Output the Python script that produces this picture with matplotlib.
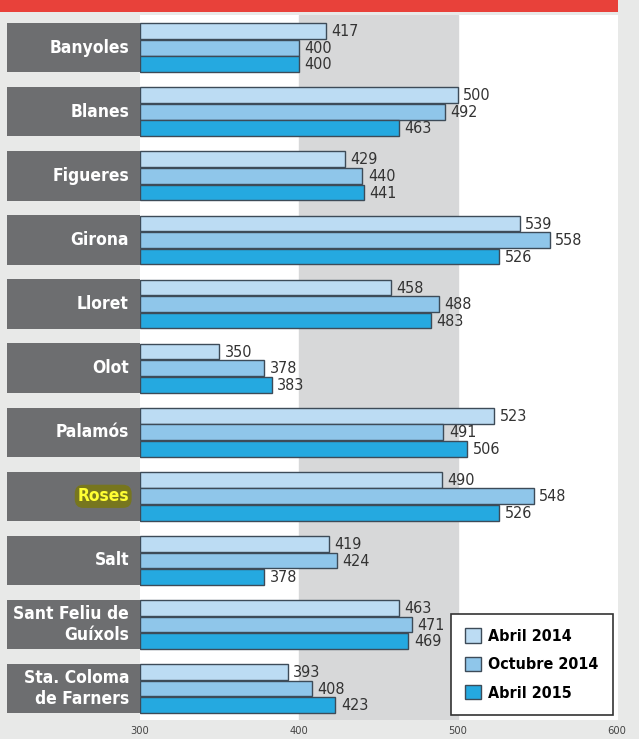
import numpy as np
import matplotlib.pyplot as plt
from matplotlib.patches import Rectangle
from matplotlib.transforms import blended_transform_factory

towns = ['Banyoles', 'Blanes', 'Figueres', 'Girona', 'Lloret', 'Olot', 'Palamós',
         'Roses', 'Salt', 'Sant Feliu de\nGuíxols', 'Sta. Coloma\nde Farners']
abril_2014 = [417, 500, 429, 539, 458, 350, 523, 490, 419, 463, 393]
octubre_2014 = [400, 492, 440, 558, 488, 378, 491, 548, 424, 471, 408]
abril_2015 = [400, 463, 441, 526, 483, 383, 506, 526, 378, 469, 423]
series_names = ['Abril 2014', 'Octubre 2014', 'Abril 2015']
colors = ['#bcdcf3', '#8fc6ea', '#25a9e0']
xticks = [300, 400, 500, 600]

plt.rcParams['font.family'] = ['DejaVu Sans']
plt.rcParams['font.stretch'] = 'condensed'

W, H = 639, 739
fig = plt.figure(figsize=(W / 100, H / 100), dpi=100)
fig.patch.set_facecolor('#e8e9e8')

# red title strip (cut off at the top)
fig.patches.append(Rectangle((0, 1 - 12 / H), 618 / W, 12 / H, transform=fig.transFigure,
                             facecolor='#e8413a', edgecolor='none'))

ax = fig.add_axes([140 / W, 1 - 720 / H, (618 - 140) / W, (720 - 15) / H])
ax.set_facecolor('white')
ax.axvspan(400, 500, color='#d7d8d9', zorder=0)
ax.set_xlim(300, 601)
ax.set_ylim(len(towns) - 1 + 0.49, -0.51)
for s in ax.spines.values():
    s.set_visible(False)
ax.set_yticks([])
ax.set_xticks(xticks)
ax.tick_params(axis='x', length=0, labelsize=8, labelcolor='#444444', pad=4)

y = np.arange(len(towns))
h = 0.245
offs = [-0.258, 0, 0.258]
all_series = [abril_2014, octubre_2014, abril_2015]
for vals, off, c, name in zip(all_series, offs, colors, series_names):
    ax.barh(y + off, np.array(vals) - 300, left=300, height=h, color=c,
            edgecolor='#3d4b58', linewidth=1, label=name, zorder=2)
    for yi, v in zip(y, vals):
        ax.text(v + 3.5, yi + off + 0.01, str(v), va='center', ha='left',
                fontsize=11.5, color='#333333', zorder=3)

# dark label boxes on the left
tr = blended_transform_factory(fig.transFigure, ax.transData)
for yi, t in zip(y, towns):
    ax.add_patch(Rectangle((7 / W, yi - 0.385), 133 / W, 0.77, transform=tr,
                           facecolor='#6d6e70', edgecolor='none', clip_on=False))
    if t == 'Roses':
        ax.text(129 / W, yi, t, transform=tr, ha='right', va='center',
                fontsize=12.5, fontweight='bold', color='#ffff33',
                bbox=dict(boxstyle='round,pad=0.15,rounding_size=0.5',
                          facecolor='#77761e', edgecolor='none'))
    else:
        ax.text(129 / W, yi, t, transform=tr, ha='right', va='center',
                fontsize=12.5, fontweight='bold', color='white', linespacing=1.25)

leg = fig.legend(loc='upper right', bbox_to_anchor=(613 / W, 1 - 614 / H),
                 borderaxespad=0, frameon=True, fancybox=False, edgecolor='#333333',
                 framealpha=1, handlelength=1.0, handleheight=1.0, handletextpad=0.45,
                 labelspacing=0.8, borderpad=0.9, prop={'weight': 'bold', 'size': 11.5})
leg.get_frame().set_linewidth(1.2)

fig.savefig('out.png', dpi=100, facecolor=fig.get_facecolor())
